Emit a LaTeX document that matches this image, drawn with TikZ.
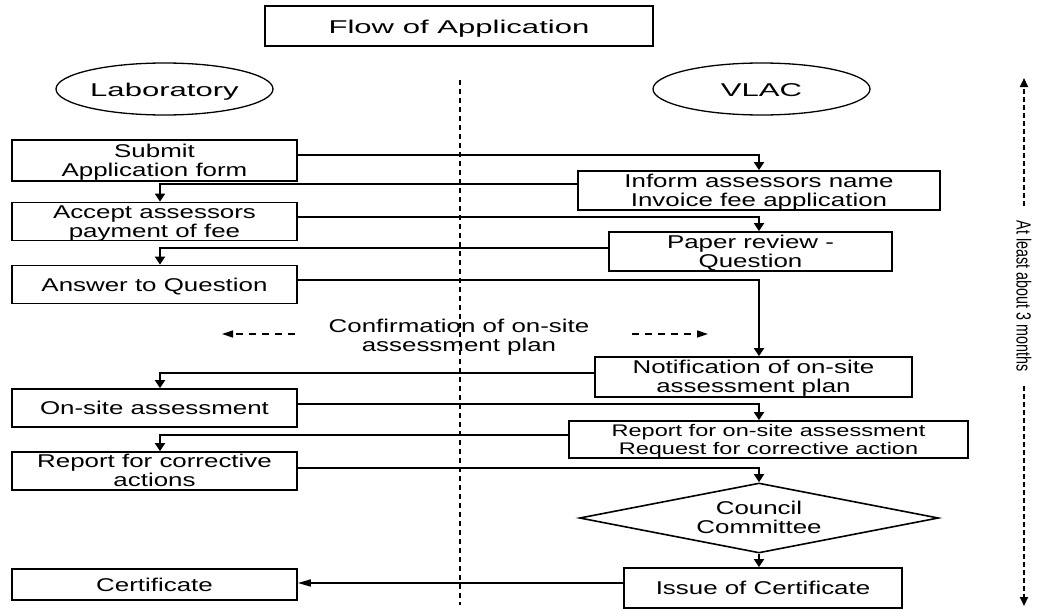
\documentclass[tikz,border=0pt]{standalone}
\usepackage{fontspec}
\setmainfont{Liberation Sans}[FakeStretch=1.40]
\newfontfamily\widefont{Liberation Sans}[FakeStretch=1.68]
\newfontfamily\narrowfont{Liberation Sans}[FakeStretch=0.7]
\usetikzlibrary{arrows.meta,shapes.geometric}
\newcommand\boxtext[2][3pt]{\raisebox{-#1}[\height][\depth]{\begin{tabular}{@{}c@{}}#2\end{tabular}}}
\begin{document}
\begin{tikzpicture}[x=1pt,y=-1pt,
  every node/.style={font=\fontsize{18.5}{18.5}\selectfont},
  box/.style={draw, line width=1.7pt, align=center, inner sep=0pt},
  oval/.style={draw, ellipse, line width=1.3pt, inner sep=0pt, font=\widefont\fontsize{18.5}{20}\selectfont},
  conn/.style={line width=1.8pt, -{Triangle[width=10pt,length=8pt]}},
  connh/.style={line width=1.6pt, -{Triangle[width=7pt,length=13pt]}},
  dasharrow/.style={line width=1.4pt, dash pattern=on 7pt off 6pt, -{Triangle[width=7pt,length=11pt]}},
  divider/.style={line width=1.2pt, dash pattern=on 5pt off 4pt},
  spanarrow/.style={line width=1.8pt, dash pattern=on 5pt off 3pt, -{Triangle[width=8pt,length=9pt]}}]
\useasboundingbox (0,0) rectangle (1040,610);
\fill[white] (0,0) rectangle (1040,610);

% columns
\coordinate (L) at (160,0);
\coordinate (R) at (759,0);

% title and lanes
\node[box, line width=1.4pt, minimum width=388pt, minimum height=40pt, font=\widefont\fontsize{18.5}{20}\selectfont] (title) at (459,26) {\boxtext[3.5pt]{Flow of Application}};
\node[oval, minimum width=217pt, minimum height=52pt] (lab) at (164.5,89) {\boxtext[3.5pt]{Laboratory}};
\node[oval, minimum width=217pt, minimum height=52pt] (vlac) at (761.5,89) {\boxtext[3.5pt]{VLAC}};

% divider
\coordinate (dtop) at (460,80);
\coordinate (dbot) at (460,605);
\draw[divider] (dtop) -- (dbot);

% left boxes
\node[box, minimum width=285pt, minimum height=41pt] (submit) at (154.5,160.5) {\boxtext[2.5pt]{Submit\\Application form}};
\node[box, minimum width=285pt, minimum height=38pt] (accept) at (154.5,221.5) {\boxtext[2.5pt]{Accept assessors\\payment of fee}};
\node[box, minimum width=285pt, minimum height=38pt] (answer) at (154.5,284.5) {\boxtext{Answer to Question}};
\node[box, minimum width=285pt, minimum height=38pt] (onsite) at (154.5,408) {\boxtext{On-site assessment}};
\node[box, minimum width=285pt, minimum height=38pt] (corr) at (154.5,471) {\boxtext[2.5pt]{Report for corrective\\actions}};
\node[box, minimum width=285pt, minimum height=31pt] (cert) at (154.5,584.5) {\boxtext{Certificate}};

% right boxes
\node[box, minimum width=362pt, minimum height=39pt] (inform) at (759,190.5) {\boxtext[2.5pt]{Inform assessors name\\Invoice fee application}};
\node[box, minimum width=283pt, minimum height=39pt] (paper) at (750.5,251.5) {\boxtext[2.5pt]{Paper review -\\Question}};
\node[box, minimum width=317pt, minimum height=40pt] (notif) at (753.5,377) {\boxtext[2.5pt]{Notification of on-site\\assessment plan}};
\node[box, minimum width=399pt, minimum height=37pt, font=\fontsize{16.8}{17.5}\selectfont] (report) at (768.5,439.5) {\boxtext[2.5pt]{Report for on-site assessment\\Request for corrective action}};
\node[draw, diamond, line width=1.6pt, inner sep=0pt, minimum width=359pt, minimum height=70pt,
  label={[align=center]center:\boxtext[2pt]{Council\\Committee}}] (council) at (759,518) {};
\node[box, minimum width=278pt, minimum height=40pt] (issue) at (763,588) {\boxtext{Issue of Certificate}};

% confirmation note
\node[align=center] (confirm) at (459,337) {\boxtext[1pt]{Confirmation of on-site\\assessment plan}};
\coordinate (cl1) at (295,334);
\coordinate (cl2) at (222,334);
\coordinate (cr1) at (632,334);
\coordinate (cr2) at (708,334);
\draw[dasharrow] (cl1) -- (cl2);
\draw[dasharrow] (cr1) -- (cr2);

% connectors
\draw[conn] (submit.east |- 0,155) -| (R |- inform.north);
\draw[conn] (inform.west |- 0,184) -| (L |- accept.north);
\draw[conn] (accept.east |- 0,217) -| (R |- paper.north);
\draw[conn] (paper.west |- 0,248) -| (L |- answer.north);
\draw[conn] (answer.east |- 0,280) -| (R |- notif.north);
\draw[conn] (notif.west |- 0,373) -| (L |- onsite.north);
\draw[conn] (onsite.east |- 0,404) -| (R |- report.north);
\draw[conn] (report.west |- 0,435) -| (L |- corr.north);
\draw[conn] (corr.east |- 0,468) -| (council.north);
\draw[conn] (council.south) -- (council.south |- issue.north);
\draw[connh] (issue.west |- 0,583) -- (cert.east |- 0,583);

% duration
\node[rotate=-90, inner sep=0pt, font=\narrowfont\fontsize{20.5}{24}\selectfont] (dur) at (1024,296) {At least about 3 months};
\coordinate (ttop) at (1024,78);
\coordinate (tbot) at (1024,606);
\draw[spanarrow] ([yshift=14pt]dur.west) -- (ttop);
\draw[spanarrow] ([yshift=-14pt]dur.east) -- (tbot);
\end{tikzpicture}
\end{document}
